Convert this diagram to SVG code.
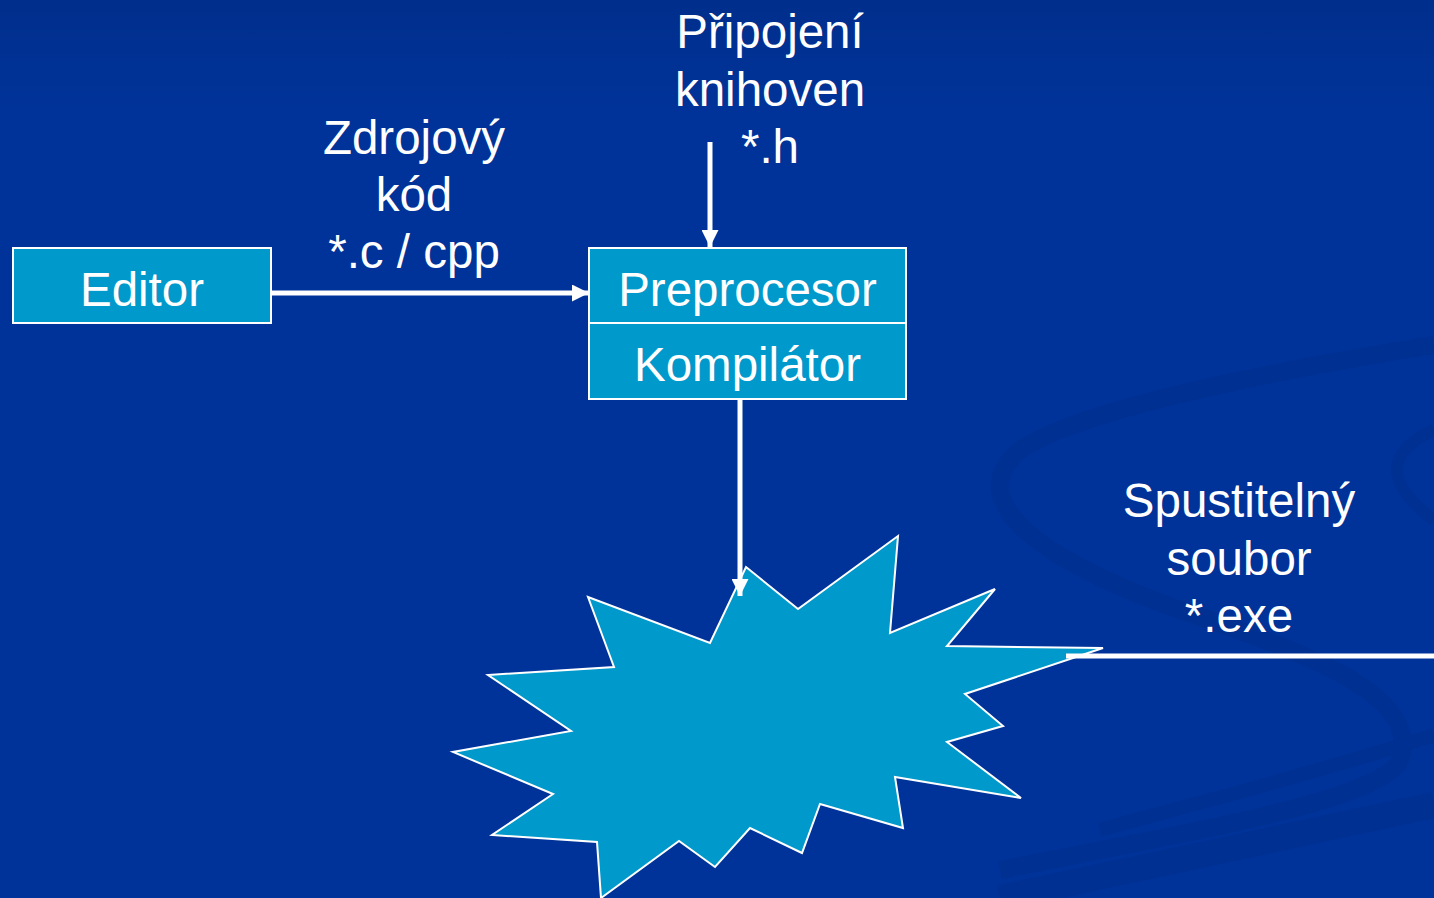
<svg xmlns="http://www.w3.org/2000/svg" width="1434" height="898" viewBox="0 0 1434 898">
<defs>
<linearGradient id="bg" x1="0" y1="0" x2="0" y2="1">
<stop offset="0" stop-color="#002E8C"/>
<stop offset="0.12" stop-color="#003399"/>
<stop offset="1" stop-color="#003399"/>
</linearGradient>
<marker id="ah" viewBox="0 0 10 10" refX="10" refY="5" markerWidth="4" markerHeight="3.4" orient="auto" markerUnits="strokeWidth">
<path d="M0,0 L10,5 L0,10 Z" fill="#FFFFFF"/>
</marker>
<style>
.box{fill:#0099CC;stroke:#FFFFFF;stroke-width:2}
.t{font-family:"Liberation Sans",Arial,sans-serif;font-size:47.5px;fill:#FFFFFF;text-anchor:middle}
.c{stroke:#FFFFFF;stroke-width:5;fill:none}
.sw{fill:none;stroke:#003090}
</style>
</defs>
<rect x="0" y="0" width="1434" height="898" fill="url(#bg)"/>
<g id="background-swooshes" opacity="0.8">
<path class="sw" stroke-width="18" d="M1434,345 C1250,375 1080,410 1020,450 C960,500 1040,560 1180,610 C1330,660 1420,700 1400,760 C1380,800 1200,830 1000,870"/>
<path class="sw" stroke-width="12" d="M1434,430 C1390,450 1380,480 1434,520"/>
<path class="sw" stroke-width="26" d="M1434,805 C1300,835 1150,865 1000,898"/>
<path class="sw" stroke-width="14" d="M1434,735 C1320,772 1200,802 1100,830"/>
</g>
<g id="editor">
<rect class="box" x="13" y="248" width="258" height="75"/>
<text class="t" x="142" y="306">Editor</text>
</g>
<g id="preprocesor">
<rect class="box" x="589" y="248" width="317" height="75"/>
<text class="t" x="747.5" y="306">Preprocesor</text>
</g>
<g id="kompilator">
<rect class="box" x="589" y="323" width="317" height="76"/>
<text class="t" x="747.5" y="381">Kompilátor</text>
</g>
<g id="linker-burst">
<polygon class="box" points="746,567 798,609 898,536 890,633 995,589 947,646 1103,648 965,694 1003,726 947,742 1021,798 895,777 903,828 820,804 802,853 750,828 715,867 679,841 601,898 597,842 492,835 553,794 453,752 571,731 488,675 614,667 588,597 710,643"/>
</g>
<g id="label-zdrojovy">
<text class="t" x="414" y="154">Zdrojový</text>
<text class="t" x="414" y="211">kód</text>
<text class="t" x="414" y="268">*.c / cpp</text>
</g>
<g id="label-pripojeni">
<text class="t" x="770" y="48">Připojení</text>
<text class="t" x="770" y="106">knihoven</text>
<text class="t" x="770" y="163">*.h</text>
</g>
<g id="label-spustitelny">
<text class="t" x="1239" y="517">Spustitelný</text>
<text class="t" x="1239" y="575">soubor</text>
<text class="t" x="1239" y="632">*.exe</text>
</g>
<g id="connectors">
<line class="c" x1="271" y1="293" x2="589" y2="293" marker-end="url(#ah)"/>
<line class="c" x1="710" y1="142" x2="710" y2="247" marker-end="url(#ah)"/>
<line class="c" x1="740" y1="399" x2="740" y2="596" marker-end="url(#ah)"/>
<line class="c" x1="1066" y1="656" x2="1452" y2="656" marker-end="url(#ah)"/>
</g>
</svg>
